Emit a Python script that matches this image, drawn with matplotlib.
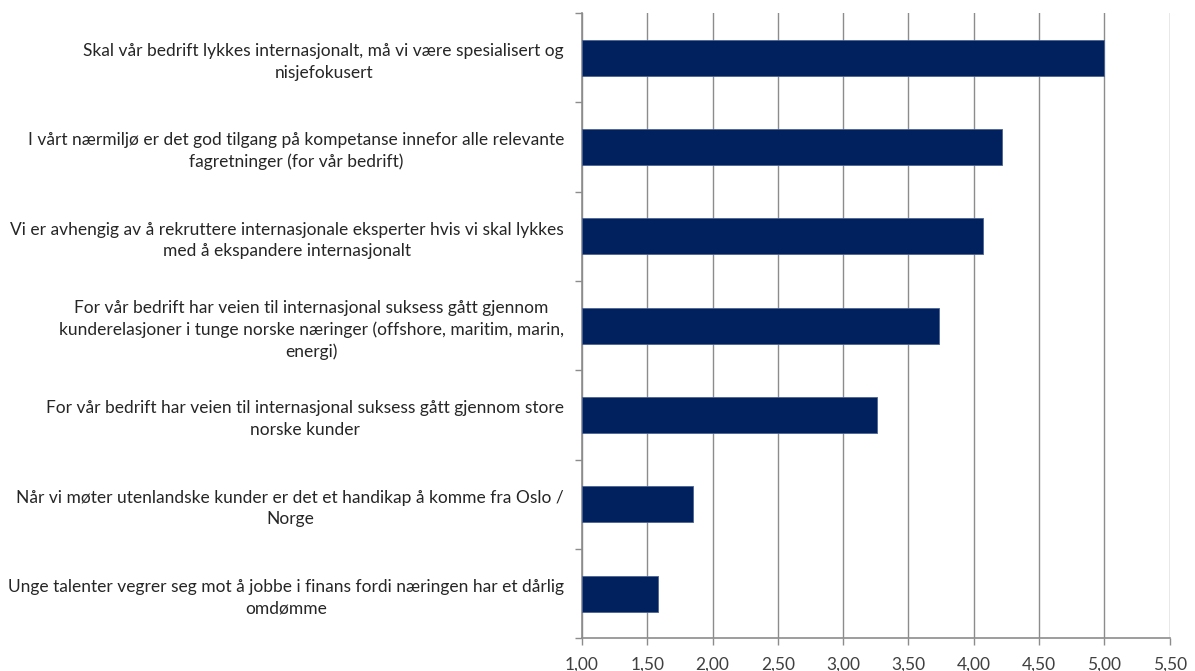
import matplotlib.pyplot as plt
from matplotlib.ticker import FixedLocator

# Statements (top to bottom) and mean scores
statements = [
    "Skal vår bedrift lykkes internasjonalt, må vi være spesialisert og\nnisjefokusert",
    "I vårt nærmiljø er det god tilgang på kompetanse innefor alle relevante\nfagretninger (for vår bedrift)",
    "Vi er avhengig av å rekruttere internasjonale eksperter hvis vi skal lykkes\nmed å ekspandere internasjonalt",
    "For vår bedrift har veien til internasjonal suksess gått gjennom\nkunderelasjoner i tunge norske næringer (offshore, maritim, marin,\nenergi)",
    "For vår bedrift har veien til internasjonal suksess gått gjennom store\nnorske kunder",
    "Når vi møter utenlandske kunder er det et handikap å komme fra Oslo /\nNorge",
    "Unge talenter vegrer seg mot å jobbe i finans fordi næringen har et dårlig\nomdømme",
]
scores = [5.00, 4.22, 4.07, 3.73, 3.26, 1.85, 1.58]

x_ticks = [1.0, 1.5, 2.0, 2.5, 3.0, 3.5, 4.0, 4.5, 5.0, 5.5]
x_labels = ["1,00", "1,50", "2,00", "2,50", "3,00", "3,50", "4,00", "4,50", "5,00", "5,50"]

plt.rcParams['font.family'] = ['Lato', 'DejaVu Sans']
grey = '#8c8c8c'

fig = plt.figure(figsize=(11.95, 6.71), dpi=100)
ax = fig.add_axes([0.487, 0.0487, 0.4918, 0.9319])

pos = list(range(len(statements)))
ax.barh(pos, [s - 1.0 for s in scores], left=1.0, height=0.4,
        color='#00215e', edgecolor='#4a6391', linewidth=0.6, zorder=3)

ax.set_xlim(1.0, 5.5)
ax.set_ylim(len(statements) - 0.5, -0.5)
ax.set_xticks(x_ticks)
ax.set_xticklabels(x_labels, fontsize=12.5, color='#404040')
ax.set_yticks(pos)
ax.set_yticklabels(statements, fontsize=12.5, color='#262626')
for lab in ax.get_yticklabels():
    lab.set_multialignment('center')
    lab.set_linespacing(1.42)
ax.yaxis.set_minor_locator(FixedLocator([p - 0.5 for p in range(len(statements) + 1)]))
ax.tick_params(axis='y', which='major', length=0, pad=13)
ax.tick_params(axis='y', which='minor', length=5, color=grey, width=1)
ax.tick_params(axis='x', length=5, color=grey, width=1, pad=8)

ax.grid(axis='x', color=grey, linewidth=1, zorder=0)
for side in ['top', 'right']:
    ax.spines[side].set_visible(False)
for side in ['left', 'bottom']:
    ax.spines[side].set_color(grey)
    ax.spines[side].set_linewidth(1.2)

fig.savefig('out.png', dpi=100)
